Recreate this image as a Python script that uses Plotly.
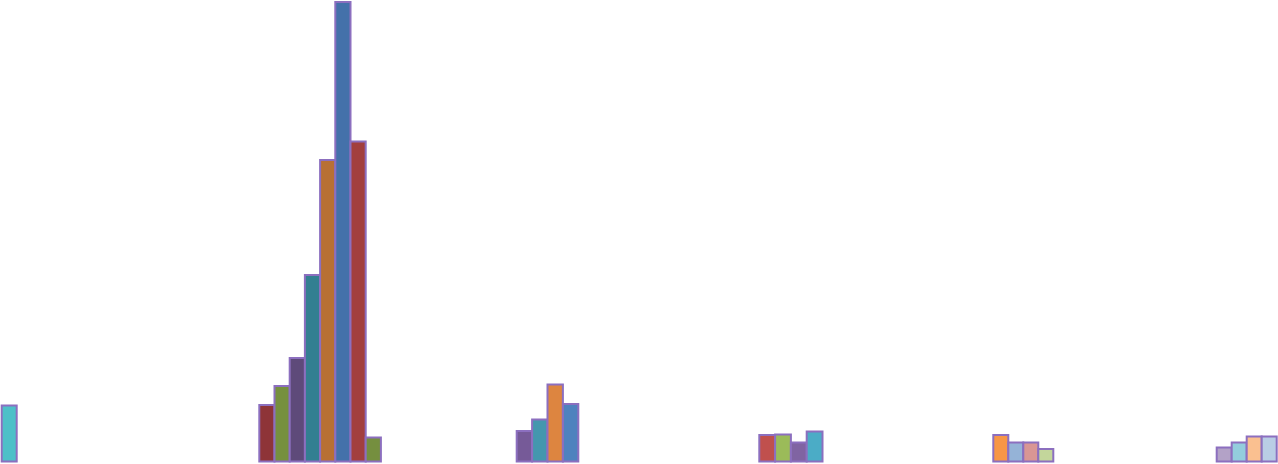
import plotly.graph_objects as go

# ---- data (arbitrary units) ----
group_names = ["A", "B", "C", "D", "E", "F"]
values_a = [56]
values_b = [56.5, 75.5, 103.5, 186.5, 301.5, 459.5, 320, 24]
values_c = [30.5, 42, 77, 57.5]
values_d = [26.5, 27, 19, 30]
values_e = [26.5, 19, 19, 12.5]
values_f = [14, 19, 25, 25]

colors_a = ["#4DC0C8"]
colors_b = ["#8E3438", "#76903E", "#5E4A7A", "#337F91", "#B87034", "#4471AA", "#A23F3E", "#758F3F"]
colors_c = ["#765A98", "#4497AE", "#DD8540", "#4F82BE"]
colors_d = ["#C0504D", "#9BBB59", "#8064A2", "#4BACC6"]
colors_e = ["#F79646", "#95B3D7", "#D99694", "#C3D69B"]
colors_f = ["#B3A2C7", "#93CDDD", "#FAC090", "#B9CDE5"]

# ---- layout (positions / sizes) ----
group_start = {"A": 1.7, "B": 259.3, "C": 516.7, "D": 759.3, "E": 993.3, "F": 1216.7}
bar_width = {"A": 15.0, "B": 15.2, "C": 15.4, "D": 15.8, "E": 15.0, "F": 15.0}
outline_color = "#8C6FBF"

groups = {
    "A": (values_a, colors_a),
    "B": (values_b, colors_b),
    "C": (values_c, colors_c),
    "D": (values_d, colors_d),
    "E": (values_e, colors_e),
    "F": (values_f, colors_f),
}

fig = go.Figure()
for name in group_names:
    vals, cols = groups[name]
    w = bar_width[name]
    xs = [group_start[name] + (i + 0.5) * w for i in range(len(vals))]
    fig.add_trace(go.Bar(
        x=xs, y=vals, width=[w] * len(vals), name=name,
        marker=dict(color=cols, line=dict(color=outline_color, width=2)),
        showlegend=False, hoverinfo="y",
    ))

fig.update_layout(
    width=1278, height=464,
    margin=dict(l=0, r=0, t=0, b=0),
    paper_bgcolor="white", plot_bgcolor="white",
    barmode="overlay",
    xaxis=dict(range=[0, 1278], visible=False, fixedrange=True),
    yaxis=dict(range=[-2.5, 461.5], visible=False, fixedrange=True),
)

fig.write_html("out.html")
